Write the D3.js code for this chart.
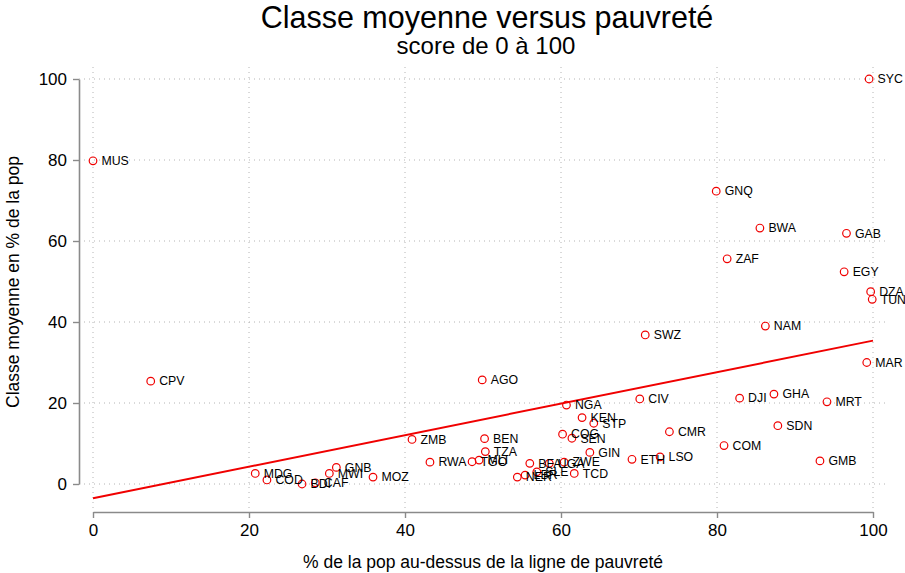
<!DOCTYPE html>
<html>
<head>
<meta charset="utf-8">
<script src="https://cdn.jsdelivr.net/npm/d3@7"></script>
<style>
  html, body { margin: 0; padding: 0; background: #fff; }
  text { font-family: "Liberation Sans", Arial, sans-serif; }
</style>
</head>
<body>
<svg id="chart" width="905" height="573"></svg>
<script>
// ---- data ----
const countries = ["SYC","MUS","GNQ","BWA","GAB","ZAF","EGY","DZA","TUN","NAM","SWZ","MAR","CPV","AGO","GHA","DJI","MRT","CIV","NGA","KEN","STP","COG","SEN","BEN","TZA","GIN","MLI","TGO","RWA","BFA","UGA","ZWE","SLE","LBR","NER","TCD","ETH","LSO","CMR","COM","SDN","GMB","ZMB","MDG","COD","BDI","CAF","MWI","GNB","MOZ"];
const abovePoverty = [99.5,0.0,79.9,85.5,96.6,81.3,96.3,99.7,99.9,86.2,70.8,99.2,7.4,49.9,87.3,82.9,94.1,70.1,60.7,62.7,64.2,60.2,61.4,50.2,50.3,63.7,49.5,48.6,43.2,56.0,58.5,60.4,56.9,55.4,54.4,61.7,69.1,72.7,73.9,80.9,87.8,93.2,40.9,20.8,22.3,26.8,28.5,30.3,31.2,35.9];
const middleClass = [100.0,79.8,72.3,63.2,61.9,55.6,52.4,47.5,45.6,39.0,36.8,30.0,25.4,25.7,22.2,21.2,20.3,21.0,19.5,16.4,15.0,12.3,11.3,11.2,8.0,7.8,5.9,5.5,5.4,5.1,5.1,5.4,3.0,2.2,1.7,2.6,6.1,6.7,12.9,9.5,14.4,5.7,11.0,2.6,1.0,0.0,0.3,2.6,4.1,1.7];
const fitX = [0, 100];
const fitY = [-3.5, 35.4];
const xTicks = [0, 20, 40, 60, 80, 100];
const yTicks = [0, 20, 40, 60, 80, 100];
const titleText = "Classe moyenne versus pauvreté";
const subtitleText = "score de 0 à 100";
const xTitle = "% de la pop au-dessus de la ligne de pauvreté";
const yTitle = "Classe moyenne en % de la pop";

// ---- layout ----
const svg = d3.select("#chart");
const x = d3.scaleLinear().domain([0, 100]).range([93, 873]);
const y = d3.scaleLinear().domain([0, 100]).range([484, 79]);
const plotLeft = 79, plotRight = 887, plotTop = 67, plotBottom = 510;
const axisColor = "#8a8a8a";
const gridColor = "#b4b4b4";
const red = "#f00000";

// grid
const grid = svg.append("g");
grid.selectAll("line.h").data(yTicks).join("line")
  .attr("x1", plotLeft).attr("x2", plotRight)
  .attr("y1", d => y(d)).attr("y2", d => y(d))
  .attr("stroke", gridColor).attr("stroke-width", 1).attr("stroke-dasharray", "1,4");
grid.selectAll("line.v").data(xTicks).join("line")
  .attr("y1", plotTop).attr("y2", plotBottom)
  .attr("x1", d => x(d)).attr("x2", d => x(d))
  .attr("stroke", gridColor).attr("stroke-width", 1).attr("stroke-dasharray", "1,4");

// axes
const yAxis = d3.axisLeft(y).tickValues(yTicks).tickSizeInner(6).tickSizeOuter(0).tickPadding(6);
const yg = svg.append("g").attr("transform", `translate(${plotLeft},0)`).call(yAxis);
const xAxis = d3.axisBottom(x).tickValues(xTicks).tickSizeInner(6).tickSizeOuter(0).tickPadding(6);
const xg = svg.append("g").attr("transform", `translate(0,512)`).call(xAxis);
[yg, xg].forEach(g => {
  g.select(".domain").attr("stroke", axisColor).attr("stroke-width", 1.6);
  g.selectAll(".tick line").attr("stroke", axisColor).attr("stroke-width", 1.4);
  g.selectAll(".tick text").attr("fill", "#000").style("font-size", "17px")
    .style("font-family", "'Liberation Sans', Arial, sans-serif");
});

// fit line
const fitData = fitX.map((v, i) => [v, fitY[i]]);
svg.append("path").datum(fitData)
  .attr("d", d3.line().x(d => x(d[0])).y(d => y(d[1])))
  .attr("stroke", red).attr("stroke-width", 2).attr("fill", "none");

// points
const pts = countries.map((c, i) => ({ c, x: abovePoverty[i], y: middleClass[i] }));
const pg = svg.append("g");
pg.selectAll("circle").data(pts).join("circle")
  .attr("cx", d => x(d.x)).attr("cy", d => y(d.y)).attr("r", 3.8)
  .attr("fill", "none").attr("stroke", red).attr("stroke-width", 1.2);
pg.selectAll("text").data(pts).join("text")
  .attr("x", d => x(d.x) + 8.5).attr("y", d => y(d.y) + 4.3)
  .style("font-size", "12.3px").attr("fill", "#000").text(d => d.c);

// titles
svg.append("text").attr("x", 487).attr("y", 28).attr("text-anchor", "middle")
  .style("font-size", "30.5px").text(titleText);
svg.append("text").attr("x", 486).attr("y", 54).attr("text-anchor", "middle")
  .style("font-size", "24px").text(subtitleText);
svg.append("text").attr("x", 483).attr("y", 568).attr("text-anchor", "middle")
  .style("font-size", "17.5px").text(xTitle);
svg.append("text").attr("transform", "translate(19,282) rotate(-90)").attr("text-anchor", "middle")
  .style("font-size", "17.5px").text(yTitle);
</script>
</body>
</html>
